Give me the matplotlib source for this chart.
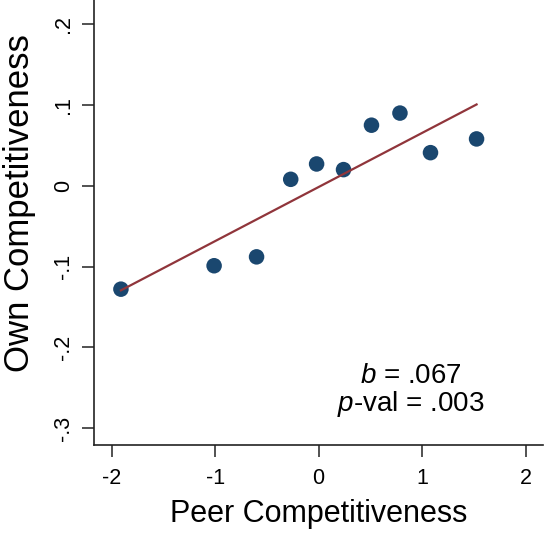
import numpy as np
import matplotlib
matplotlib.use("Agg")
import matplotlib.pyplot as plt

plt.rcParams['font.family'] = ['Liberation Sans', 'DejaVu Sans']
plt.rcParams['mathtext.fontset'] = 'custom'
plt.rcParams['mathtext.it'] = 'Liberation Sans:italic'
plt.rcParams['mathtext.rm'] = 'Liberation Sans'

# binned means
peer = [-1.91, -1.01, -0.60, -0.27, -0.02, 0.24, 0.51, 0.785, 1.08, 1.525]
own = [-0.128, -0.099, -0.088, 0.008, 0.027, 0.020, 0.075, 0.090, 0.041, 0.058]

# fitted line
b = 0.067
a = -0.0015
pval = 0.003

xticks = [-2, -1, 0, 1, 2]
yticks = [-0.3, -0.2, -0.1, 0, 0.1, 0.2]
ytick_labels = ['-.3', '-.2', '-.1', '0', '.1', '.2']

navy = '#1a476f'
maroon = '#90353b'

fig = plt.figure(figsize=(5.44, 5.33), dpi=100)
ax = fig.add_axes([0.1728, 0.165, 0.826, 0.835])

xs = np.array([min(peer), max(peer)])
ax.plot(xs, a + b * xs, color=maroon, linewidth=1.6, zorder=3)
ax.scatter(peer, own, s=125, color=navy, edgecolors='none', zorder=2)

ax.set_xlim(-2.17, 2.17)
ax.set_ylim(-0.321, 0.23)
ax.set_xticks(xticks)
ax.set_xticklabels([str(t) for t in xticks])
ax.set_yticks(yticks)
ax.set_yticklabels(ytick_labels, rotation=90, va='center')

for side in ['top', 'right']:
    ax.spines[side].set_visible(False)
for side in ['left', 'bottom']:
    ax.spines[side].set_linewidth(1.2)
    ax.spines[side].set_color('#222222')

ax.tick_params(axis='both', direction='out', length=8.5, width=1.1,
               color='#222222', labelsize=15.5)
ax.tick_params(axis='x', pad=8)
ax.tick_params(axis='y', pad=6)

ax.set_xlabel('Peer Competitiveness', fontsize=22, labelpad=7)
ax.set_ylabel('Own Competitiveness', fontsize=25, labelpad=6)
ax.yaxis.set_label_coords(-0.13, 0.544)

ax.text(0.89, -0.235, '$b$ = .%03d' % round(b * 1000), fontsize=20,
        ha='center', va='center')
ax.text(0.89, -0.270, '$p$-val = .%03d' % round(pval * 1000), fontsize=20,
        ha='center', va='center')

fig.savefig('out.png', dpi=100)
